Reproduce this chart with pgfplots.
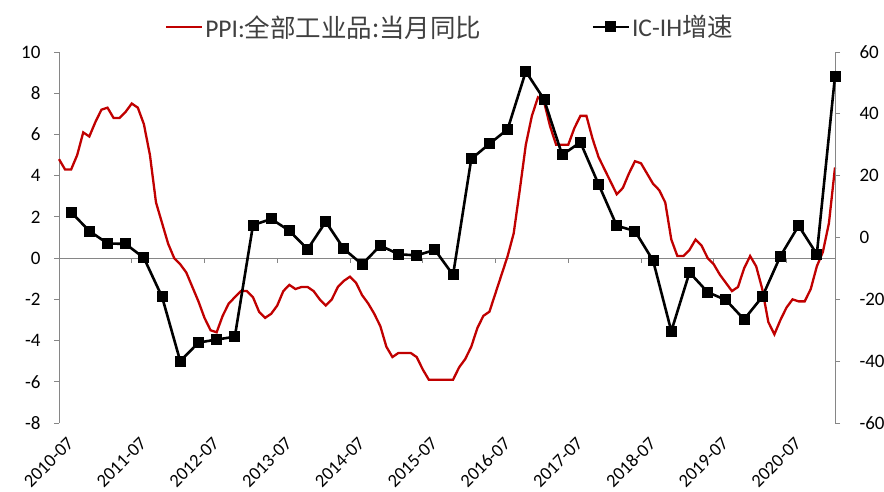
\documentclass[border=0pt]{standalone}
\usepackage{fontspec}
\setmainfont{Carlito}
\newfontfamily\cjk{Noto Sans CJK SC}
\usepackage{pgfplots}
\pgfplotsset{compat=1.18}

\definecolor{ppired}{RGB}{192,0,0}
\definecolor{axgray}{RGB}{134,134,134}
\definecolor{legtext}{RGB}{64,64,64}

% PPI:全部工业品:当月同比, month index 0 = 2010-07
\pgfplotstableread{
m v
0 4.8
1 4.3
2 4.3
3 5.0
4 6.1
5 5.9
6 6.6
7 7.2
8 7.3
9 6.8
10 6.8
11 7.1
12 7.5
13 7.3
14 6.5
15 5.0
16 2.7
17 1.7
18 0.7
19 0.0
20 -0.3
21 -0.7
22 -1.4
23 -2.1
24 -2.9
25 -3.5
26 -3.6
27 -2.8
28 -2.2
29 -1.9
30 -1.6
31 -1.6
32 -1.9
33 -2.6
34 -2.9
35 -2.7
36 -2.3
37 -1.6
38 -1.3
39 -1.5
40 -1.4
41 -1.4
42 -1.6
43 -2.0
44 -2.3
45 -2.0
46 -1.4
47 -1.1
48 -0.9
49 -1.2
50 -1.8
51 -2.2
52 -2.7
53 -3.3
54 -4.3
55 -4.8
56 -4.6
57 -4.6
58 -4.6
59 -4.8
60 -5.4
61 -5.9
62 -5.9
63 -5.9
64 -5.9
65 -5.9
66 -5.3
67 -4.9
68 -4.3
69 -3.4
70 -2.8
71 -2.6
72 -1.7
73 -0.8
74 0.1
75 1.2
76 3.3
77 5.5
78 6.9
79 7.8
80 7.6
81 6.4
82 5.5
83 5.5
84 5.5
85 6.3
86 6.9
87 6.9
88 5.8
89 4.9
90 4.3
91 3.7
92 3.1
93 3.4
94 4.1
95 4.7
96 4.6
97 4.1
98 3.6
99 3.3
100 2.7
101 0.9
102 0.1
103 0.1
104 0.4
105 0.9
106 0.6
107 0.0
108 -0.3
109 -0.8
110 -1.2
111 -1.6
112 -1.4
113 -0.5
114 0.1
115 -0.4
116 -1.5
117 -3.1
118 -3.7
119 -3.0
120 -2.4
121 -2.0
122 -2.1
123 -2.1
124 -1.5
125 -0.4
126 0.3
127 1.7
128 4.4
}\ppi

% IC-IH增速, quarterly
\pgfplotstableread{
m v
2 8.2
5 2.1
8 -1.9
11 -2.1
14 -6.6
17 -19.2
20 -40.0
23 -34.0
26 -33.0
29 -32.1
32 4.0
35 6.0
38 2.2
41 -3.8
44 5.1
47 -3.7
50 -8.7
53 -2.6
56 -5.4
59 -5.8
62 -4.0
65 -12.1
68 25.4
71 30.3
74 35.0
77 53.7
80 44.7
83 26.7
86 30.8
89 17.2
92 3.8
95 2.1
98 -7.5
101 -30.3
104 -11.3
107 -17.7
110 -20.2
113 -26.5
116 -19.2
119 -6.0
122 3.8
125 -5.4
128 52.2
}\icih

\pgfplotsset{
  base/.style={
    scale only axis, width=776pt, height=371pt,
    xmin=0, xmax=128,
    axis line style={draw=axgray, line width=0.8pt, -},
    tick style={draw=axgray, line width=0.8pt},
    tick align=outside, major tick length=5pt,
    ticklabel style={font=\fontsize{19}{22}\selectfont, text=black},
    clip=false,
  },
}

\begin{document}
\begin{tikzpicture}
\begin{axis}[base,
  ymin=-8, ymax=10,
  axis y line*=left, axis x line*=bottom,
  x axis line style={draw=none},
  xtick={0,12,...,120},
  xticklabels={2010-07,2011-07,2012-07,2013-07,2014-07,2015-07,2016-07,2017-07,2018-07,2019-07,2020-07},
  xtick style={draw=none},
  xticklabel style={rotate=45, anchor=east, yshift=-17pt, xshift=3pt, font=\fontsize{18.5}{21}\selectfont},
  ytick={-8,-6,...,10},
  yticklabels={-8,-6,-4,-2,0,2,4,6,8,10},
  yticklabel style={xshift=-10pt},
]
  \draw[axgray, line width=0.8pt] (axis cs:0,0) -- (axis cs:128,0);
  \pgfplotsinvokeforeach{0,12,24,36,48,60,72,84,96,108,120}{
    \draw[axgray, line width=0.8pt] (axis cs:#1,0) -- ([yshift=-5pt]axis cs:#1,0);
  }
  \addplot[ppired, line width=2.3pt, no marks] table[x=m, y=v] {\ppi};
\end{axis}
\begin{axis}[base,
  ymin=-60, ymax=60,
  axis y line*=right, axis x line=none, xtick=\empty,
  ytick={-60,-40,...,60},
  yticklabels={-60,-40,-20,0,20,40,60},
  yticklabel style={xshift=16pt},
  legend columns=2,
  legend style={at={(0.504,1)}, anchor=center, yshift=25pt, draw=none, fill=none,
    font=\fontsize{25.5}{28}\selectfont, text=legtext,
    /tikz/every even column/.append style={column sep=108pt}},
  legend image code/.code={\draw[mark repeat=2, mark phase=2, #1] plot coordinates {(0pt,0pt) (18pt,0pt) (36pt,0pt)};},
]
  \addlegendimage{ppired, line width=2.3pt, no marks}
  \addlegendentry{PPI:{\cjk 全部工业品:当月同比}}
  \addplot[black, line width=2.6pt, mark=square*, mark size=4.2pt, mark options={solid}] table[x=m, y=v] {\icih};
  \addlegendentry{IC-IH{\cjk 增速}}
\end{axis}
\pgfresetboundingbox
\path[use as bounding box] (-59pt,-68pt) rectangle (825pt,423pt);
\end{tikzpicture}
\end{document}
